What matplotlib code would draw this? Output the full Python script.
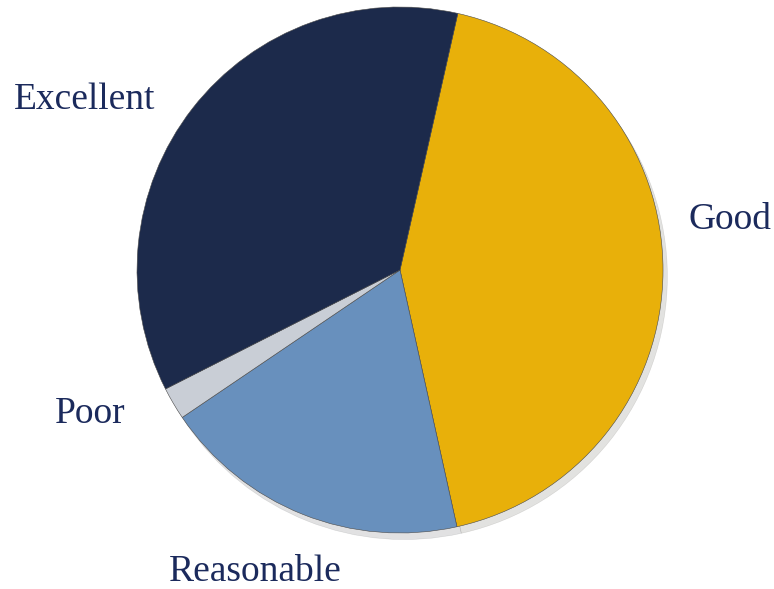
import matplotlib
matplotlib.use("Agg")
import matplotlib.pyplot as plt

categories = ["Good", "Reasonable", "Poor", "Excellent"]
values = [43, 19, 2, 36]
colors = ["#e8b00a", "#6890bd", "#c9ced6", "#1c2a4b"]
label_pos = {"Good": (1.255, 0.19), "Reasonable": (-0.551, -1.148),
             "Poor": (-1.179, -0.547), "Excellent": (-1.198, 0.647)}

fig = plt.figure(figsize=(7.74, 5.89), dpi=100)
ax = fig.add_axes([0, 0, 1, 1])
wedges, texts = ax.pie(values, colors=colors, startangle=77.3, counterclock=False,
                       labels=categories, radius=1.0,
                       wedgeprops=dict(edgecolor="#4a4a4a", linewidth=0.4),
                       shadow=dict(ox=0.012, oy=-0.018, shade=0.9, alpha=0.12),
                       textprops=dict(fontsize=27, color="#1b2a5c", family="Liberation Serif"))
for t, c in zip(texts, categories):
    t.set_position(label_pos[c])
    t.set_ha("center")
    t.set_va("center")
ax.set_xlim(-1.521, 1.422)
ax.set_ylim(-1.213, 1.0266)
ax.set_aspect("auto")
ax.axis("off")
fig.savefig("out.png", dpi=100)
